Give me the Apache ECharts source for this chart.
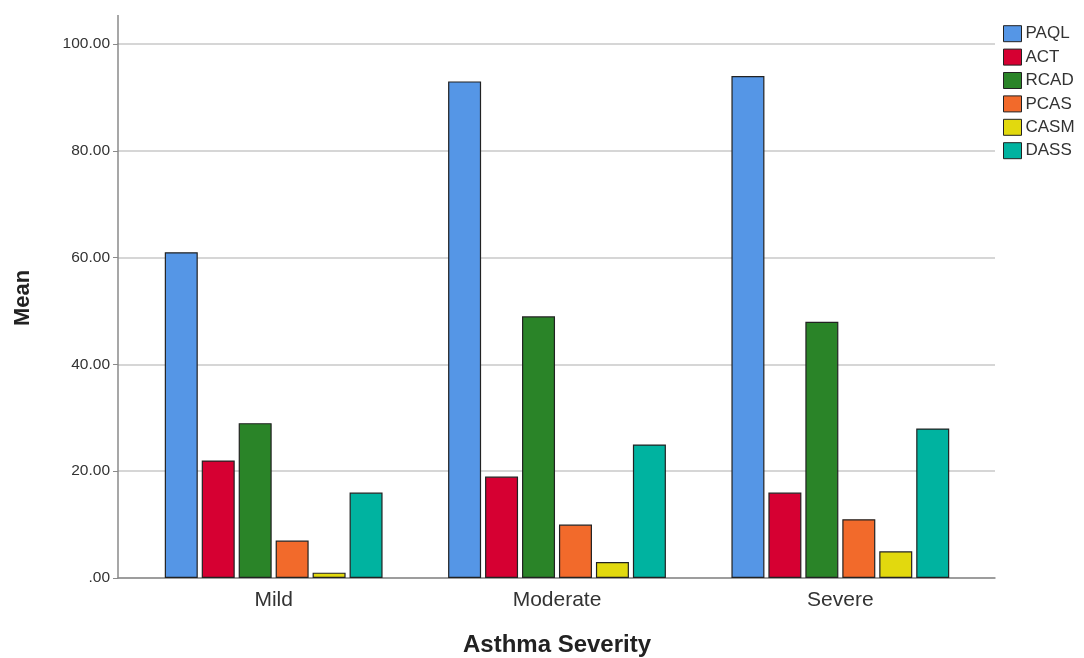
<!DOCTYPE html>
<html>
<head>
<meta charset="utf-8">
<script src="https://cdn.jsdelivr.net/npm/echarts@6/dist/echarts.min.js"></script>
<style>
html,body{margin:0;padding:0;background:#fff;}
#chart{width:1084px;height:658px;}
</style>
</head>
<body>
<div id="chart"></div>
<script>
const categories = ['Mild', 'Moderate', 'Severe'];
const seriesNames = ['PAQL', 'ACT', 'RCAD', 'PCAS', 'CASM', 'DASS'];
const PAQL = [61, 93, 94];
const ACT = [22, 19, 16];
const RCAD = [29, 49, 48];
const PCAS = [7, 10, 11];
const CASM = [1, 3, 5];
const DASS = [16, 25, 28];
const yTicks = [0, 20, 40, 60, 80, 100];

const seriesValues = [PAQL, ACT, RCAD, PCAS, CASM, DASS];
const colors = ['#5596E6', '#D60032', '#2A8428', '#F26A2B', '#E2D90E', '#00B3A0'];
const font = '"Liberation Sans", Arial, sans-serif';

const chart = echarts.init(document.getElementById('chart'), null, {renderer: 'canvas'});
chart.setOption({
  backgroundColor: '#ffffff',
  animation: false,
  grid: [
    {left: 132, right: 102, top: 44, bottom: 80, containLabel: false, outerBoundsMode: 'none'},
    {left: 118, right: 89, top: 44, bottom: 80, containLabel: false, outerBoundsMode: 'none'}
  ],
  legend: {
    orient: 'vertical',
    left: 998,
    top: 20,
    itemWidth: 18,
    itemHeight: 16,
    itemGap: 6,
    icon: 'rect',
    data: seriesNames,
    textStyle: {fontFamily: font, fontSize: 17, lineHeight: 17.4, color: '#333', padding: [0, 0, 0, -1]},
    itemStyle: {borderColor: '#222', borderWidth: 1}
  },
  xAxis: [
    {
      type: 'category', gridIndex: 0, data: categories,
      axisLine: {show: false}, axisTick: {show: false},
      axisLabel: {fontFamily: font, fontSize: 21, color: '#333', margin: 12},
      name: 'Asthma Severity', nameLocation: 'middle', nameGap: 55,
      nameTextStyle: {fontFamily: font, fontSize: 24, fontWeight: 'bold', color: '#222'}
    },
    {
      type: 'category', gridIndex: 1, data: categories,
      axisLine: {show: true, lineStyle: {color: '#8a8a8a', width: 1.5}},
      axisTick: {show: false}, axisLabel: {show: false}
    }
  ],
  yAxis: [
    {
      type: 'value', gridIndex: 0, min: yTicks[0], max: yTicks[yTicks.length - 1], interval: 20,
      show: false
    },
    {
      type: 'value', gridIndex: 1, min: yTicks[0], max: yTicks[yTicks.length - 1], interval: 20,
      axisLine: {show: true, lineStyle: {color: '#8a8a8a', width: 1.5}},
      axisTick: {show: true, length: 5, lineStyle: {color: '#8a8a8a'}},
      splitLine: {show: true, lineStyle: {color: '#c8c8c8', width: 1.5}},
      axisLabel: {
        fontFamily: font, fontSize: 15.5, color: '#333', margin: 8,
        formatter: v => v === 0 ? '.00' : v.toFixed(2)
      }
    }
  ],
  graphic: [
    {type: 'line', shape: {x1: 118, y1: 15, x2: 118, y2: 44}, style: {stroke: '#8a8a8a', lineWidth: 1.5}, z: 10},
    {type: 'text', x: 23, y: 298, rotation: Math.PI / 2,
      style: {text: 'Mean', font: 'bold 22px ' + font, fill: '#222', align: 'center', verticalAlign: 'middle'}}
  ],
  series: seriesNames.map((n, i) => ({
    name: n,
    type: 'bar',
    xAxisIndex: 0,
    yAxisIndex: 0,
    data: seriesValues[i],
    barWidth: 33,
    barGap: '12%',
    itemStyle: {color: colors[i], borderColor: '#222', borderWidth: 1.2}
  }))
});
</script>
</body>
</html>
